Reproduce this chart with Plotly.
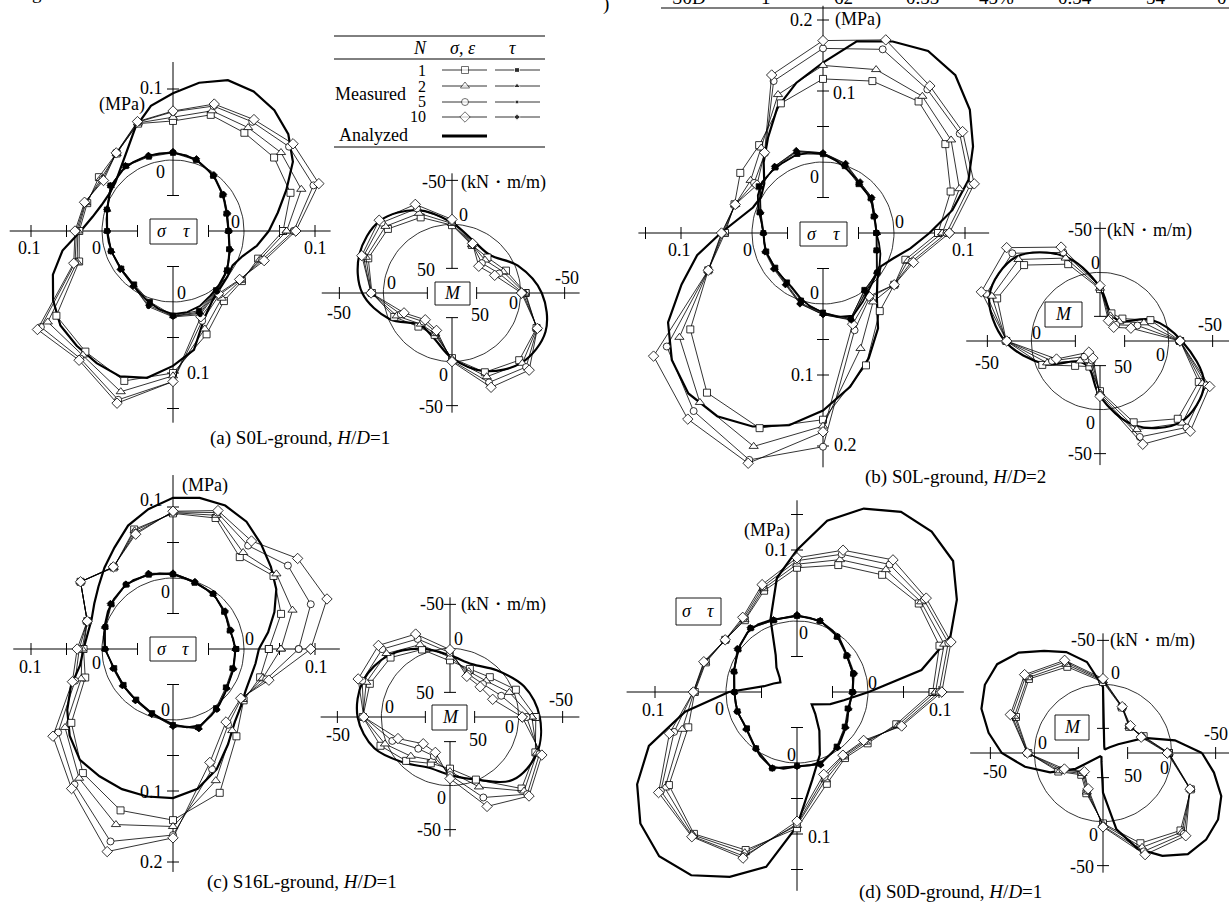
import math
import plotly.graph_objects as go

W, H = 1229, 903
FONT = "Liberation Serif"

# ---------------- angles (degrees, counter-clockwise from east) ----------------
ANG_SIG = [0, 18, 36, 54, 72, 90, 108, 126, 144, 162, 180, 198, 216, 234, 252, 270, 288, 306, 324, 342]
ANG_M = [0, 22.5, 45, 67.5, 90, 112.5, 135, 157.5, 180, 202.5, 225, 247.5, 270, 292.5, 315, 337.5]
ANG_AN = [0, 10, 20, 30, 40, 50, 60, 70, 80, 90, 100, 110, 120, 130, 140, 150, 160, 170,
          180, 190, 200, 210, 220, 230, 240, 250, 260, 270, 280, 290, 300, 310, 320, 330, 340, 350]

# ---------------- (a) S0L-ground, H/D=1 ----------------
A_SIG_N1 = [.055, .074, .076, .071, .072, .055, .059, .035, .029, .027, .032, .039, .103, .110, .122, .100, .053, .022, .020, .026]
A_SIG_N2 = [.060, .090, .088, .080, .078, .060, .060, .035, .026, .029, .034, .042, .118, .116, .138, .104, .045, .017, .018, .029]
A_SIG_N5 = [.070, .108, .102, .090, .085, .068, .061, .036, .023, .030, .036, .045, .130, .122, .150, .112, .033, .011, .017, .032]
A_SIG_N10 = [.073, .116, .109, .094, .088, .069, .062, .036, .021, .031, .038, .047, .136, .125, .155, .112, .027, .009, .016, .035]
A_SIG_AN = [.035, .050, .070, .095, .112, .122, .127, .126, .112, .094, .079, .055, .030, .015, .006, .004, .007, .015,
            .030, .058, .080, .095, .107, .111, .115, .118, .110, .090, .070, .030, .012, .004, .000, -.003, .004, .020]
A_TAU_N1 = [-.022, -.021, -.014, -.004, .005, .010, .010, .013, .009, -.002, -.007, -.008, -.010, -.007, .005, .019, .018, .003, -.006, -.017]
A_TAU_N2 = [-.022, -.020, -.013, -.003, .006, .011, .011, .013, .008, -.003, -.007, -.009, -.010, -.006, .007, .020, .020, .004, -.006, -.016]
A_TAU_N5 = [-.021, -.020, -.013, -.003, .006, .011, .012, .014, .008, -.003, -.008, -.009, -.009, -.005, .012, .021, .024, .006, -.005, -.016]
A_TAU_N10 = [-.021, -.019, -.012, -.002, .007, .012, .012, .014, .009, -.002, -.008, -.008, -.008, -.004, .010, .020, .022, .005, -.005, -.015]
A_TAU_AN = [-.022, -.022, -.020, -.016, -.012, -.006, -.001, .004, .008, .010, .011, .012, .012, .011, .008, .003, -.002, -.005,
            -.007, -.008, -.009, -.010, -.009, -.007, -.002, .005, .012, .017, .016, .012, .005, .000, -.005, -.010, -.015, -.020]
A_M_N1 = [-5.6, 11.6, 21, 19, 0.9, -15, -25, -25, -13, 7, 24, 26.5, 4, -19.5, -30, -26]
A_M_N2 = [-4.5, 15, 25, 18.5, -1, -20, -29, -28, -13.5, 10, 28, 28, 3, -25, -35, -26.5]
A_M_N5 = [-2.5, 20, 30, 18, -3.5, -26, -35, -31, -14, 15, 32, 30, 1, -32, -41, -27]
A_M_N10 = [-1, 25.5, 35, 17, -5.6, -31, -39, -33, -14, 19, 35, 32, 0, -38, -46, -27]
A_M_AN = [-24, -3, 17, 14, -2, -24, -38, -36, -24, 1, 26.5, 23, 4, -18, -34, -37]

# ---------------- (b) S0L-ground, H/D=2 ----------------
B_SIG_N1 = [.062, .089, .113, .129, .125, .117, .092, .053, .044, .031, .038, .070, .131, .178, .189, .163, .096, .036, .024, .022]
B_SIG_N2 = [.068, .102, .123, .138, .142, .136, .105, .048, .026, .030, .040, .070, .150, .195, .216, .172, .071, .020, .024, .026]
B_SIG_N5 = [.074, .118, .138, .150, .172, .160, .125, .039, .020, .030, .042, .070, .172, .210, .236, .201, .044, .012, .024, .031]
B_SIG_N10 = [.078, .124, .143, .156, .186, .171, .134, .040, .015, .030, .043, .070, .195, .224, .241, .180, .035, .010, .024, .034]
B_SIG_AN = [.050, .085, .118, .144, .170, .190, .196, .187, .174, .140, .115, .088, .055, .030, .008, .001, .005, .020,
            .044, .080, .112, .152, .178, .195, .198, .190, .175, .150, .120, .088, .055, .018, .000, -.006, .005, .025]
B_TAU_N1 = [-.025, -.025, -.017, -.015, -.001, .011, .017, .014, .012, -.006, -.016, -.016, -.017, -.014, .000, .012, .027, -.001, -.005, -.021]
B_TAU_N2 = [-.024, -.024, -.016, -.013, .001, .012, .020, .015, .010, -.007, -.016, -.015, -.016, -.012, .003, .014, .026, .000, -.006, -.020]
B_TAU_N5 = [-.025, -.023, -.015, -.012, .002, .013, .021, .016, .009, -.008, -.017, -.015, -.015, -.011, .004, .015, .028, .002, -.007, -.021]
B_TAU_N10 = [-.024, -.023, -.015, -.011, .003, .013, .022, .016, .010, -.008, -.016, -.014, -.014, -.010, .005, .015, .029, .003, -.006, -.020]
B_TAU_AN = [-.025, -.025, -.024, -.020, -.017, -.015, -.010, -.004, .004, .011, .015, .016, .014, .013, .012, .006, -.003, -.012,
            -.016, -.016, -.016, -.017, -.016, -.015, -.012, -.004, .005, .012, .020, .024, .012, .002, -.004, -.008, -.014, -.020]
B_M_N1 = [-13, 16, 42, 44, 19, -16.5, -44, -48.5, -28.5, 7, 38, 46.5, 21, -22, -47, -43.5]
B_M_N2 = [-13, 24, 47, 47, 18, -24, -53, -55, -28.5, 13, 46, 50, 19, -31, -54, -48]
B_M_N5 = [-13, 32, 52, 50, 16, -31, -63, -62, -28, 19, 53, 54, 17, -40, -61, -53]
B_M_N10 = [-13, 40, 56, 53, 15, -37.5, -72, -68, -28, 24.5, 60, 57, 15, -49, -67, -57]
B_M_AN = [-15, 15, 46, 45, 17, -26, -57, -58, -30, 10, 45, 45, 15, -26, -52, -50]

# ---------------- (c) S16L-ground, H/D=1 ----------------
C_SIG_N1 = [.035, .060, .075, .060, .094, .091, .077, .042, .061, .027, .026, .030, .077, .116, .139, .141, .113, .052, .023, .029]
C_SIG_N2 = [.052, .077, .080, .068, .098, .092, .075, .042, .061, .027, .028, .036, .088, .125, .160, .150, .095, .042, .021, .033]
C_SIG_N5 = [.077, .104, .100, .080, .102, .093, .072, .043, .061, .027, .032, .045, .100, .136, .185, .162, .078, .032, .019, .038]
C_SIG_N10 = [.094, .128, .117, .088, .105, .094, .070, .043, .061, .027, .035, .049, .109, .143, .200, .166, .068, .027, .018, .042]
C_SIG_AN = [.021, .036, .052, .068, .080, .093, .107, .115, .116, .113, .100, .085, .065, .050, .037, .028, .022, .022,
            .026, .033, .053, .072, .090, .104, .107, .110, .111, .110, .100, .080, .055, .035, .025, .018, .016, .018]
C_TAU_N1 = [-.011, -.016, -.011, -.004, -.002, .005, .010, .012, .007, .000, -.004, -.013, -.014, -.012, -.005, .007, .016, .003, -.008, -.012]
C_TAU_N2 = [-.012, -.015, -.010, -.004, -.001, .006, .011, .012, .008, .001, -.004, -.012, -.013, -.011, -.004, .008, .017, .004, -.007, -.011]
C_TAU_N5 = [-.013, -.015, -.010, -.003, .000, .007, .011, .013, .008, .001, -.005, -.012, -.012, -.010, -.003, .008, .018, .006, -.006, -.011]
C_TAU_N10 = [-.012, -.014, -.009, -.003, .000, .007, .012, .013, .009, .001, -.005, -.011, -.012, -.010, -.003, .009, .018, .005, -.006, -.010]
C_TAU_AN = [-.012, -.014, -.016, -.013, -.010, -.006, -.004, -.002, .001, .005, .008, .010, .012, .011, .009, .006, .002, -.001,
            -.004, -.010, -.013, -.014, -.013, -.012, -.010, -.006, -.001, .006, .012, .014, .008, .002, -.004, -.008, -.010, -.012]
C_M_N1 = [-19.5, -3, 14, 19, 13.6, -5, -17.5, -20.6, -21, -7.5, 7.5, 21, 19.3, 1, -37, -27]
C_M_N2 = [-15, 5, 20, 22, 10, -11, -24, -25, -21, -2, 15, 25, 16, -8, -41, -29]
C_M_N5 = [-9, 15, 25, 25, 5, -18, -31, -30, -20, 7, 27, 30, 12, -21, -46, -32]
C_M_N10 = [-4, 25.5, 29.5, 28, 1.5, -24, -37, -35, -20, 14, 35, 34.5, 8, -32, -49, -35]
C_M_AN = [-24, -13, 3, 13, 8, -6, -21, -29, -27, -15, 4.5, 15.5, 12, 1, -23, -29]

# ---------------- (d) S0D-ground, H/D=1 ----------------
D_SIG_N1 = [.091, .111, .112, .104, .088, .075, .050, .025, .025, .035, .044, .061, .123, .147, .134, .092, .036, .015, .023, .047]
D_SIG_N2 = [.095, .118, .116, .113, .096, .080, .053, .026, .025, .036, .045, .070, .130, .149, .138, .088, .030, .013, .020, .050]
D_SIG_N5 = [.100, .124, .121, .122, .104, .085, .056, .028, .025, .037, .046, .082, .137, .151, .143, .086, .026, .011, .018, .053]
D_SIG_N10 = [.104, .128, .125, .130, .110, .089, .059, .030, .025, .038, .046, .089, .141, .152, .146, .082, .022, .010, .016, .055]
D_SIG_AN = [.001, .078, .130, .160, .187, .195, .193, .175, .145, .100, .063, .009, -.040, -.055, -.068, -.073, -.065, -.053,
            -.004, .060, .122, .160, .188, .202, .198, .177, .150, .089, .025, -.006, -.037, -.060, -.073, -.065, -.050, -.033]
D_TAU_N1 = [-.022, -.017, -.014, -.004, .005, .007, .006, .011, .002, -.007, -.012, -.012, -.013, -.002, .013, .004, .006, -.005, -.017, -.025]
D_TAU_N2 = [-.022, -.016, -.013, -.004, .005, .008, .006, .011, .003, -.007, -.012, -.012, -.012, -.002, .012, .004, .007, -.004, -.016, -.024]
D_TAU_N5 = [-.021, -.016, -.013, -.003, .006, .008, .007, .012, .003, -.006, -.011, -.011, -.012, -.001, .013, .005, .007, -.004, -.016, -.024]
D_TAU_N10 = [-.021, -.015, -.012, -.003, .006, .009, .007, .012, .004, -.006, -.011, -.011, -.011, -.001, .013, .005, .008, -.003, -.015, -.023]
D_TAU_AN = [-.022, -.020, -.017, -.015, -.011, -.005, .000, .004, .006, .007, .006, .008, .010, .009, .004, -.002, -.006, -.010,
            -.012, -.012, -.012, -.013, -.010, -.004, .004, .011, .010, .005, .005, .004, -.001, -.006, -.013, -.018, -.023, -.024]
D_M_N1 = [3, 28, 36, 22, -2.7, -28, -41, -29, -7, 23, 43, 28.5, -2, -33, -46.5, -30]
D_M_N2 = [3.5, 29, 35.5, 21.5, -4, -31, -43, -31, -7.5, 25, 45, 30, -3, -38, -49, -29.5]
D_M_N5 = [4, 30, 35, 21, -5, -34, -46, -34, -8, 28, 47, 32, -5, -43, -52, -29]
D_M_N10 = [5, 31, 34, 21, -6.5, -36, -48, -36, -8, 30.5, 48, 34, -6, -47, -55, -29]
D_M_AN = [-34.5, -5, 28, 58, 68, 73, 73, 73, 70, 3, -27, -44, -56, -71, -79, -77, -69, -54,
          -37, -12, 14, 42, 70, 73, 73, 73, 68, 33, -10, -38, -57, -72, -75, -73, -65, -50]

N_LABELS = ["1", "2", "5", "10"]
CAPTIONS = ["(a) S0L-ground, <i>H</i>/<i>D</i>=1", "(b) S0L-ground, <i>H</i>/<i>D</i>=2",
            "(c) S16L-ground, <i>H</i>/<i>D</i>=1", "(d) S0D-ground, <i>H</i>/<i>D</i>=1"]
TOP_ROW = ["S0D", "1", "62", "0.55", "45%", "0.54", "54", "0"]

# ---------------- styling / geometry ----------------
R_SIG = 0.1          # tunnel circle in MPa-scale units
S_SIG = 710.0        # px per unit
R_M = 78.0           # M circle (kN m/m units)
S_M = 0.88           # px per unit
SIG_SYMS = ["square", "triangle-up", "circle", "diamond"]
SIG_SIZES = [7, 8, 7, 8]
TAU_SIZES = [5, 6, 4, 5]

fig = go.Figure()
annotations = []
shapes = []
_ax = [0]


def new_axes(cx, cy, s):
    _ax[0] += 1
    k = _ax[0]
    xn, yn = ("x", "y") if k == 1 else (f"x{k}", f"y{k}")
    fig.layout["xaxis" if k == 1 else f"xaxis{k}"] = dict(
        domain=[0, 1], range=[-cx / s, (W - cx) / s], visible=False, fixedrange=True, anchor=yn)
    fig.layout["yaxis" if k == 1 else f"yaxis{k}"] = dict(
        domain=[0, 1], range=[-(H - cy) / s, cy / s], visible=False, fixedrange=True, anchor=xn)
    return xn, yn


def to_xy(vals, angs, base, sign, close=True):
    xs, ys = [], []
    for v, a in zip(vals, angs):
        r = base + sign * v
        t = math.radians(a)
        xs.append(r * math.cos(t))
        ys.append(r * math.sin(t))
    if close:
        xs.append(xs[0])
        ys.append(ys[0])
    return xs, ys


def add_line(xs, ys, ax, width=0.8, color="black", shape="linear"):
    fig.add_trace(go.Scatter(x=xs, y=ys, xaxis=ax[0], yaxis=ax[1], mode="lines",
                             line=dict(color=color, width=width, shape=shape),
                             hoverinfo="skip", showlegend=False))


def add_circle(r, ax):
    xs = [r * math.cos(math.radians(i)) for i in range(0, 361, 3)]
    ys = [r * math.sin(math.radians(i)) for i in range(0, 361, 3)]
    add_line(xs, ys, ax, width=0.8)


def add_cross(ax, rin, ends, ticks, tl):
    xs, ys = [], []
    for key, (dx, dy) in {"l": (-1, 0), "r": (1, 0), "u": (0, 1), "d": (0, -1)}.items():
        xs += [dx * rin, dx * ends[key], None]
        ys += [dy * rin, dy * ends[key], None]
        for t in ticks[key]:
            if dx != 0:
                xs += [dx * t, dx * t, None]
                ys += [-tl, tl, None]
            else:
                xs += [-tl, tl, None]
                ys += [dy * t, dy * t, None]
    add_line(xs, ys, ax, width=1.0)


def add_series(vals, angs, base, sign, ax, sym, size, fill, lw=0.8):
    xs, ys = to_xy(vals, angs, base, sign)
    fig.add_trace(go.Scatter(x=xs, y=ys, xaxis=ax[0], yaxis=ax[1], mode="lines+markers",
                             line=dict(color="black", width=lw),
                             marker=dict(symbol=sym, size=size, color=fill,
                                         line=dict(color="black", width=0.8)),
                             hoverinfo="skip", showlegend=False, cliponaxis=False))


def txt(x, y, s, anchor="center", size=18, italic=False, vanchor="middle"):
    annotations.append(dict(x=x / W, y=1 - y / H, xref="paper", yref="paper", text=s, showarrow=False,
                            xanchor=anchor, yanchor=vanchor,
                            font=dict(family=FONT, size=size, color="black",
                                      style="italic" if italic else "normal")))


def box(x0, y0, x1, y1):
    shapes.append(dict(type="rect", xref="paper", yref="paper", x0=x0 / W, x1=x1 / W,
                       y0=1 - y1 / H, y1=1 - y0 / H, line=dict(color="black", width=0.9),
                       fillcolor="white", layer="above"))


def sig_panel(cx, cy, sig, sig_an, tau, tau_an, ends, ticks):
    ax = new_axes(cx, cy, S_SIG)
    add_circle(R_SIG, ax)
    add_cross(ax, 0.05, ends, ticks, 6 / S_SIG)
    add_line(*to_xy(sig_an, ANG_AN, R_SIG, 1), ax, width=2.2)
    for vals, sym, sz in zip(sig, SIG_SYMS, SIG_SIZES):
        add_series(vals, ANG_SIG, R_SIG, 1, ax, sym, sz, "white")
    add_line(*to_xy(tau_an, ANG_AN, R_SIG, 1), ax, width=1.8)
    for vals, sym, sz in zip(tau, SIG_SYMS, TAU_SIZES):
        add_series(vals, ANG_SIG, R_SIG, 1, ax, sym, sz, "black")


def m_panel(cx, cy, mser, m_an, an_angles, ends, smooth):
    ax = new_axes(cx, cy, S_M)
    add_circle(R_M, ax)
    add_cross(ax, 28, ends, {k: [28, 128] for k in "lrud"}, 6 / S_M)
    add_line(*to_xy(m_an, an_angles, R_M, -1), ax, width=2.2, shape="spline" if smooth else "linear")
    for vals, sym, sz in zip(mser, SIG_SYMS, SIG_SIZES):
        add_series(vals, ANG_M, R_M, -1, ax, sym, sz, "white")


# ---------- panel (a) ----------
sig_panel(173, 231, [A_SIG_N1, A_SIG_N2, A_SIG_N5, A_SIG_N10], A_SIG_AN,
          [A_TAU_N1, A_TAU_N2, A_TAU_N5, A_TAU_N10], A_TAU_AN,
          dict(l=.23, r=.222, u=.238, d=.27),
          dict(l=[.05, .15, .2], r=[.05, .15, .2], u=[.05, .2], d=[.05, .15, .2, .25]))
m_panel(452, 293, [A_M_N1, A_M_N2, A_M_N5, A_M_N10], A_M_AN, ANG_M,
        dict(l=148, r=145, u=136, d=136), True)
# ---------- panel (b) ----------
sig_panel(823, 233, [B_SIG_N1, B_SIG_N2, B_SIG_N5, B_SIG_N10], B_SIG_AN,
          [B_TAU_N1, B_TAU_N2, B_TAU_N5, B_TAU_N10], B_TAU_AN,
          dict(l=.26, r=.234, u=.32, d=.33),
          dict(l=[.05, .2, .25], r=[.05, .2], u=[.05, .15, .2, .3], d=[.05, .15, .2, .3]))
m_panel(1100, 341, [B_M_N1, B_M_N2, B_M_N5, B_M_N10], B_M_AN, ANG_M,
        dict(l=152, r=150, u=135, d=141), True)
# ---------- panel (c) ----------
sig_panel(173, 649, [C_SIG_N1, C_SIG_N2, C_SIG_N5, C_SIG_N10], C_SIG_AN,
          [C_TAU_N1, C_TAU_N2, C_TAU_N5, C_TAU_N10], C_TAU_AN,
          dict(l=.225, r=.235, u=.245, d=.314),
          dict(l=[.05, .15, .2], r=[.05, .15, .2], u=[.05, .15, .2], d=[.05, .15, .2, .3]))
m_panel(450, 717, [C_M_N1, C_M_N2, C_M_N5, C_M_N10], C_M_AN, ANG_M,
        dict(l=147, r=147, u=136, d=136), True)
# ---------- panel (d) ----------
sig_panel(797, 692, [D_SIG_N1, D_SIG_N2, D_SIG_N5, D_SIG_N10], D_SIG_AN,
          [D_TAU_N1, D_TAU_N2, D_TAU_N5, D_TAU_N10], D_TAU_AN,
          dict(l=.24, r=.235, u=.27, d=.28),
          dict(l=[.05, .2], r=[.05, .15, .2], u=[.05, .2, .25], d=[.05, .15, .2, .25]))
m_panel(1103, 753, [D_M_N1, D_M_N2, D_M_N5, D_M_N10], D_M_AN, ANG_AN,
        dict(l=151, r=150, u=136, d=136), False)

# ---------- legend table (pixel axes) ----------
LX = new_axes(0, 0, 1.0)
fig.layout["yaxis" + LX[1][1:]].update(range=[H, 0])
add_line([334, 545], [36, 36], LX, width=1.0)
add_line([334, 545], [59, 59], LX, width=1.0)
add_line([334, 545], [147, 147], LX, width=1.0)
ROW_Y = [70, 86, 102, 117]
for i, (ry, lab) in enumerate(zip(ROW_Y, N_LABELS)):
    fig.add_trace(go.Scatter(x=[442, 465, 487], y=[ry, ry, ry], xaxis=LX[0], yaxis=LX[1], mode="lines+markers",
                             line=dict(color="black", width=0.8),
                             marker=dict(symbol=SIG_SYMS[i], size=[0, SIG_SIZES[i], 0], color="white",
                                         line=dict(color="black", width=[0, 0.8, 0])),
                             hoverinfo="skip", showlegend=False))
    fig.add_trace(go.Scatter(x=[495, 517, 540], y=[ry, ry, ry], xaxis=LX[0], yaxis=LX[1], mode="lines+markers",
                             line=dict(color="black", width=0.8),
                             marker=dict(symbol=SIG_SYMS[i], size=[0, TAU_SIZES[i], 0], color="black"),
                             hoverinfo="skip", showlegend=False))
    txt(428, ry, lab, anchor="right", size=16)
add_line([442, 487], [136, 136], LX, width=3.2)
txt(420, 48, "N", italic=True)
txt(463, 48, "σ, ε", italic=True)
txt(512, 48, "τ", italic=True)
txt(408, 94, "Measured", anchor="right")
txt(410, 135, "Analyzed", anchor="right")

# ---------- text labels ----------
# panel a sigma
txt(165, 88, "0.1", anchor="right"); txt(147, 104, "(MPa)", anchor="right")
txt(160, 172, "0"); txt(236, 222, "0"); txt(181, 293, "0"); txt(96, 248, "0")
txt(29, 248, "0.1"); txt(315, 248, "0.1"); txt(185, 373, "0.1", anchor="left")
box(150, 219, 197, 244); txt(162, 231, "σ", italic=True); txt(186, 231, "τ", italic=True)
# panel a M
txt(448, 182, "-50", anchor="right"); txt(459, 182, "(kN・m/m)", anchor="left")
txt(463, 215, "0"); txt(426, 270, "50"); txt(391, 283, "0"); txt(339, 313, "-50")
txt(567, 278, "-50"); txt(513, 303, "0"); txt(480, 315, "50"); txt(443, 375, "0"); txt(431, 407, "-50")
box(435, 282, 470, 305); txt(452, 293, "M", italic=True)
# panel b sigma
txt(815, 20, "0.2", anchor="right"); txt(833, 20, "(MPa)", anchor="left")
txt(831, 93, "0.1", anchor="left"); txt(814, 177, "0"); txt(899, 222, "0"); txt(747, 250, "0")
txt(679, 250, "0.1"); txt(964, 250, "0.1"); txt(814, 293, "0")
txt(816, 375, "0.1", anchor="right"); txt(832, 445, "0.2", anchor="left")
box(800, 222, 847, 246); txt(812, 234, "σ", italic=True); txt(836, 234, "τ", italic=True)
# panel b M
txt(1094, 230, "-50", anchor="right"); txt(1105, 230, "(kN・m/m)", anchor="left")
txt(1095, 263, "0"); txt(1036, 333, "0"); txt(987, 363, "-50"); txt(1123, 367, "50")
txt(1210, 325, "-50"); txt(1160, 355, "0"); txt(1090, 423, "0"); txt(1094, 454, "-50", anchor="right")
box(1045, 302, 1082, 327); txt(1063, 314, "M", italic=True)
# panel c sigma
txt(180, 485, "(MPa)", anchor="left"); txt(165, 500, "0.1", anchor="right")
txt(166, 592, "0"); txt(249, 639, "0"); txt(97, 663, "0"); txt(30, 667, "0.1"); txt(316, 667, "0.1")
txt(166, 710, "0"); txt(165, 792, "0.1", anchor="right"); txt(165, 862, "0.2", anchor="right")
box(150, 637, 196, 661); txt(162, 649, "σ", italic=True); txt(185, 649, "τ", italic=True)
# panel c M
txt(446, 604, "-50", anchor="right"); txt(459, 604, "(kN・m/m)", anchor="left")
txt(458, 639, "0"); txt(425, 693, "50"); txt(389, 707, "0"); txt(338, 735, "-50")
txt(561, 700, "-50"); txt(510, 727, "0"); txt(478, 740, "50"); txt(441, 798, "0"); txt(429, 830, "-50")
box(432, 705, 467, 730); txt(450, 717, "M", italic=True)
# panel d sigma
txt(792, 530, "(MPa)", anchor="right"); txt(790, 550, "0.1", anchor="right")
txt(803, 633, "0"); txt(872, 683, "0"); txt(720, 709, "0"); txt(653, 710, "0.1"); txt(940, 710, "0.1")
txt(791, 755, "0"); txt(806, 837, "0.1", anchor="left")
box(676, 598, 721, 625); txt(687, 611, "σ", italic=True); txt(710, 611, "τ", italic=True)
# panel d M
txt(1097, 640, "-50", anchor="right"); txt(1108, 640, "(kN・m/m)", anchor="left")
txt(1115, 673, "0"); txt(1042, 743, "0"); txt(995, 772, "-50"); txt(1133, 776, "50")
txt(1164, 768, "0"); txt(1216, 734, "-50"); txt(1093, 835, "0"); txt(1082, 867, "-50")
box(1055, 715, 1089, 740); txt(1072, 727, "M", italic=True)

# captions
for (cxp, cyp), cap in zip([(300, 438), (955, 477), (302, 882), (950, 892)], CAPTIONS):
    txt(cxp, cyp, cap, size=19)

# cut-off table row at the top and stray glyphs
add_line([661, 1229], [8, 8], LX, width=1.2)
for xx, s in zip([689, 766, 843, 922, 996, 1075, 1156, 1222], TOP_ROW):
    txt(xx, -3, s, size=19)
txt(37, -7, "g", size=19)
txt(606, 4, ")", size=19)

fig.update_layout(width=W, height=H, margin=dict(l=0, r=0, t=0, b=0), autosize=False,
                  paper_bgcolor="white", plot_bgcolor="rgba(0,0,0,0)",
                  annotations=annotations, shapes=shapes, showlegend=False)
fig.write_html("out.html", config={"displayModeBar": False, "staticPlot": True},
               post_script="document.body.style.margin='0px';document.body.style.overflow='hidden';")
